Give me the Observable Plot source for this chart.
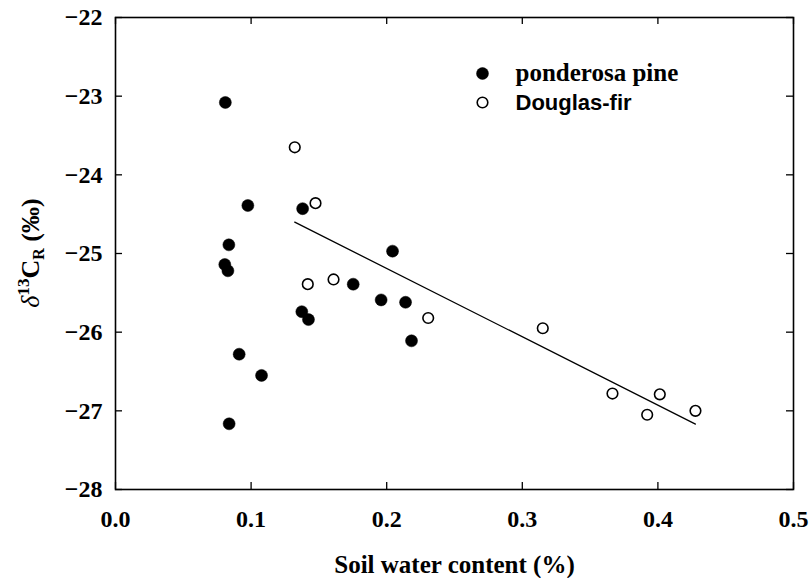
<!DOCTYPE html>
<html><head><meta charset="utf-8">
<script src="https://cdn.jsdelivr.net/npm/d3@7"></script>
<script src="https://cdn.jsdelivr.net/npm/@observablehq/plot@0.6"></script>
<style>body{margin:0;background:#fff} svg{display:block}</style>
</head><body><div id="chart"></div>
<script>
// ponderosa pine (filled)
const ponderosaX = [0.081, 0.0976, 0.138, 0.0836, 0.0806, 0.0829, 0.1374, 0.1423, 0.1753, 0.1959, 0.0912, 0.1077, 0.0838, 0.2043, 0.2139, 0.2183];
const ponderosaY = [-23.08, -24.39, -24.43, -24.89, -25.14, -25.22, -25.74, -25.84, -25.39, -25.59, -26.28, -26.55, -27.165, -24.97, -25.62, -26.11];
// Douglas-fir (open)
const douglasX = [0.1322, 0.1475, 0.1418, 0.1608, 0.2306, 0.3151, 0.3665, 0.3921, 0.4014, 0.4277];
const douglasY = [-23.65, -24.36, -25.39, -25.33, -25.82, -25.95, -26.78, -27.05, -26.79, -27.00];
const seriesNames = ["ponderosa pine", "Douglas-fir"];
const xTicks = [0, 0.1, 0.2, 0.3, 0.4, 0.5];
const xTickLabels = ["0.0", "0.1", "0.2", "0.3", "0.4", "0.5"];
const yTicks = [-28, -27, -26, -25, -24, -23, -22];
const yTickLabels = ["\u221228", "\u221227", "\u221226", "\u221225", "\u221224", "\u221223", "\u221222"];
const xLabel = "Soil water content (%)";

const ponderosa = ponderosaX.map((x, i) => ({x, y: ponderosaY[i]}));
const douglas = douglasX.map((x, i) => ({x, y: douglasY[i]}));

const W = 811, H = 578, mL = 115, mT = 17, mR = 18, mB = 89;
const innerW = W - mL - mR, innerH = H - mT - mB;
const tk = 7;
const serif = "'Liberation Serif','Times New Roman',serif";
const sans = "'Liberation Sans',Arial,sans-serif";

const plot = Plot.plot({
  width: W, height: H,
  marginLeft: mL, marginTop: mT, marginRight: mR, marginBottom: mB,
  x: {domain: [0, 0.5], axis: null},
  y: {domain: [-28, -22], axis: null},
  style: {fontFamily: serif, background: "white", color: "black"},
  marks: [
    // tick labels
    Plot.text(xTicks, {x: d => d, text: d => xTickLabels[xTicks.indexOf(d)], frameAnchor: "bottom",
      lineAnchor: "top", dy: 20, fontSize: 24, fontWeight: "bold", fontFamily: serif, fill: "black"}),
    Plot.text(yTicks, {y: d => d, text: d => yTickLabels[yTicks.indexOf(d)], frameAnchor: "left",
      lineAnchor: "middle", textAnchor: "end", dx: -13, fontSize: 24, fontWeight: "bold", fontFamily: serif, fill: "black"}),
    // inward ticks on all four sides
    Plot.tickX(xTicks, {x: d => d, insetTop: innerH - tk, stroke: "black", strokeWidth: 1.3}),
    Plot.tickX(xTicks, {x: d => d, insetBottom: innerH - tk, stroke: "black", strokeWidth: 1.3}),
    Plot.tickY(yTicks, {y: d => d, insetRight: innerW - tk, stroke: "black", strokeWidth: 1.3}),
    Plot.tickY(yTicks, {y: d => d, insetLeft: innerW - tk, stroke: "black", strokeWidth: 1.3}),
    Plot.frame({stroke: "black", strokeWidth: 1.6}),
    Plot.linearRegressionY(douglas, {x: "x", y: "y", ci: 0, stroke: "black", strokeWidth: 1.3}),
    Plot.dot(ponderosa, {x: "x", y: "y", r: 6, fill: "black", stroke: "black", strokeWidth: 0.5}),
    Plot.dot(douglas, {x: "x", y: "y", r: 5.3, fill: "white", stroke: "black", strokeWidth: 1.6}),
    // legend
    Plot.dot([seriesNames[0]], {frameAnchor: "top-left", dx: 367, dy: 56, r: 6, fill: "black", stroke: "black", strokeWidth: 0.5}),
    Plot.dot([seriesNames[1]], {frameAnchor: "top-left", dx: 367, dy: 85, r: 5.3, fill: "white", stroke: "black", strokeWidth: 1.6}),
    Plot.text([seriesNames[0]], {text: d => d, frameAnchor: "top-left", lineAnchor: "middle", dx: 400, dy: 55, textAnchor: "start",
      fontSize: 25, fontWeight: "bold", fontFamily: serif, fill: "black"}),
    Plot.text([seriesNames[1]], {text: d => d, frameAnchor: "top-left", lineAnchor: "middle", dx: 400, dy: 85, textAnchor: "start",
      fontSize: 22, fontWeight: "bold", fontFamily: sans, fill: "black"}),
    Plot.text([xLabel], {text: d => d, frameAnchor: "bottom", lineAnchor: "middle", dy: 75, fontSize: 25, fontWeight: "bold", fontFamily: serif, fill: "black"})
  ]
});

// y-axis label with super/subscripts
const svg = d3.select(plot);
const yl = svg.append("text")
  .attr("transform", `translate(39,${mT + innerH / 2}) rotate(-90)`)
  .attr("text-anchor", "middle")
  .attr("font-family", serif)
  .attr("font-size", 26)
  .attr("font-weight", "bold")
  .attr("fill", "black");
yl.append("tspan").attr("font-style", "italic").attr("font-weight", "normal").text("\u03B4");
yl.append("tspan").attr("font-size", 17).attr("dy", -10).text("13");
yl.append("tspan").attr("dy", 10).text("C");
yl.append("tspan").attr("font-size", 16).attr("dy", 5).text("R");
yl.append("tspan").attr("dy", -5).text(" (\u2030)");

document.getElementById("chart").appendChild(plot);
</script>
</body></html>
